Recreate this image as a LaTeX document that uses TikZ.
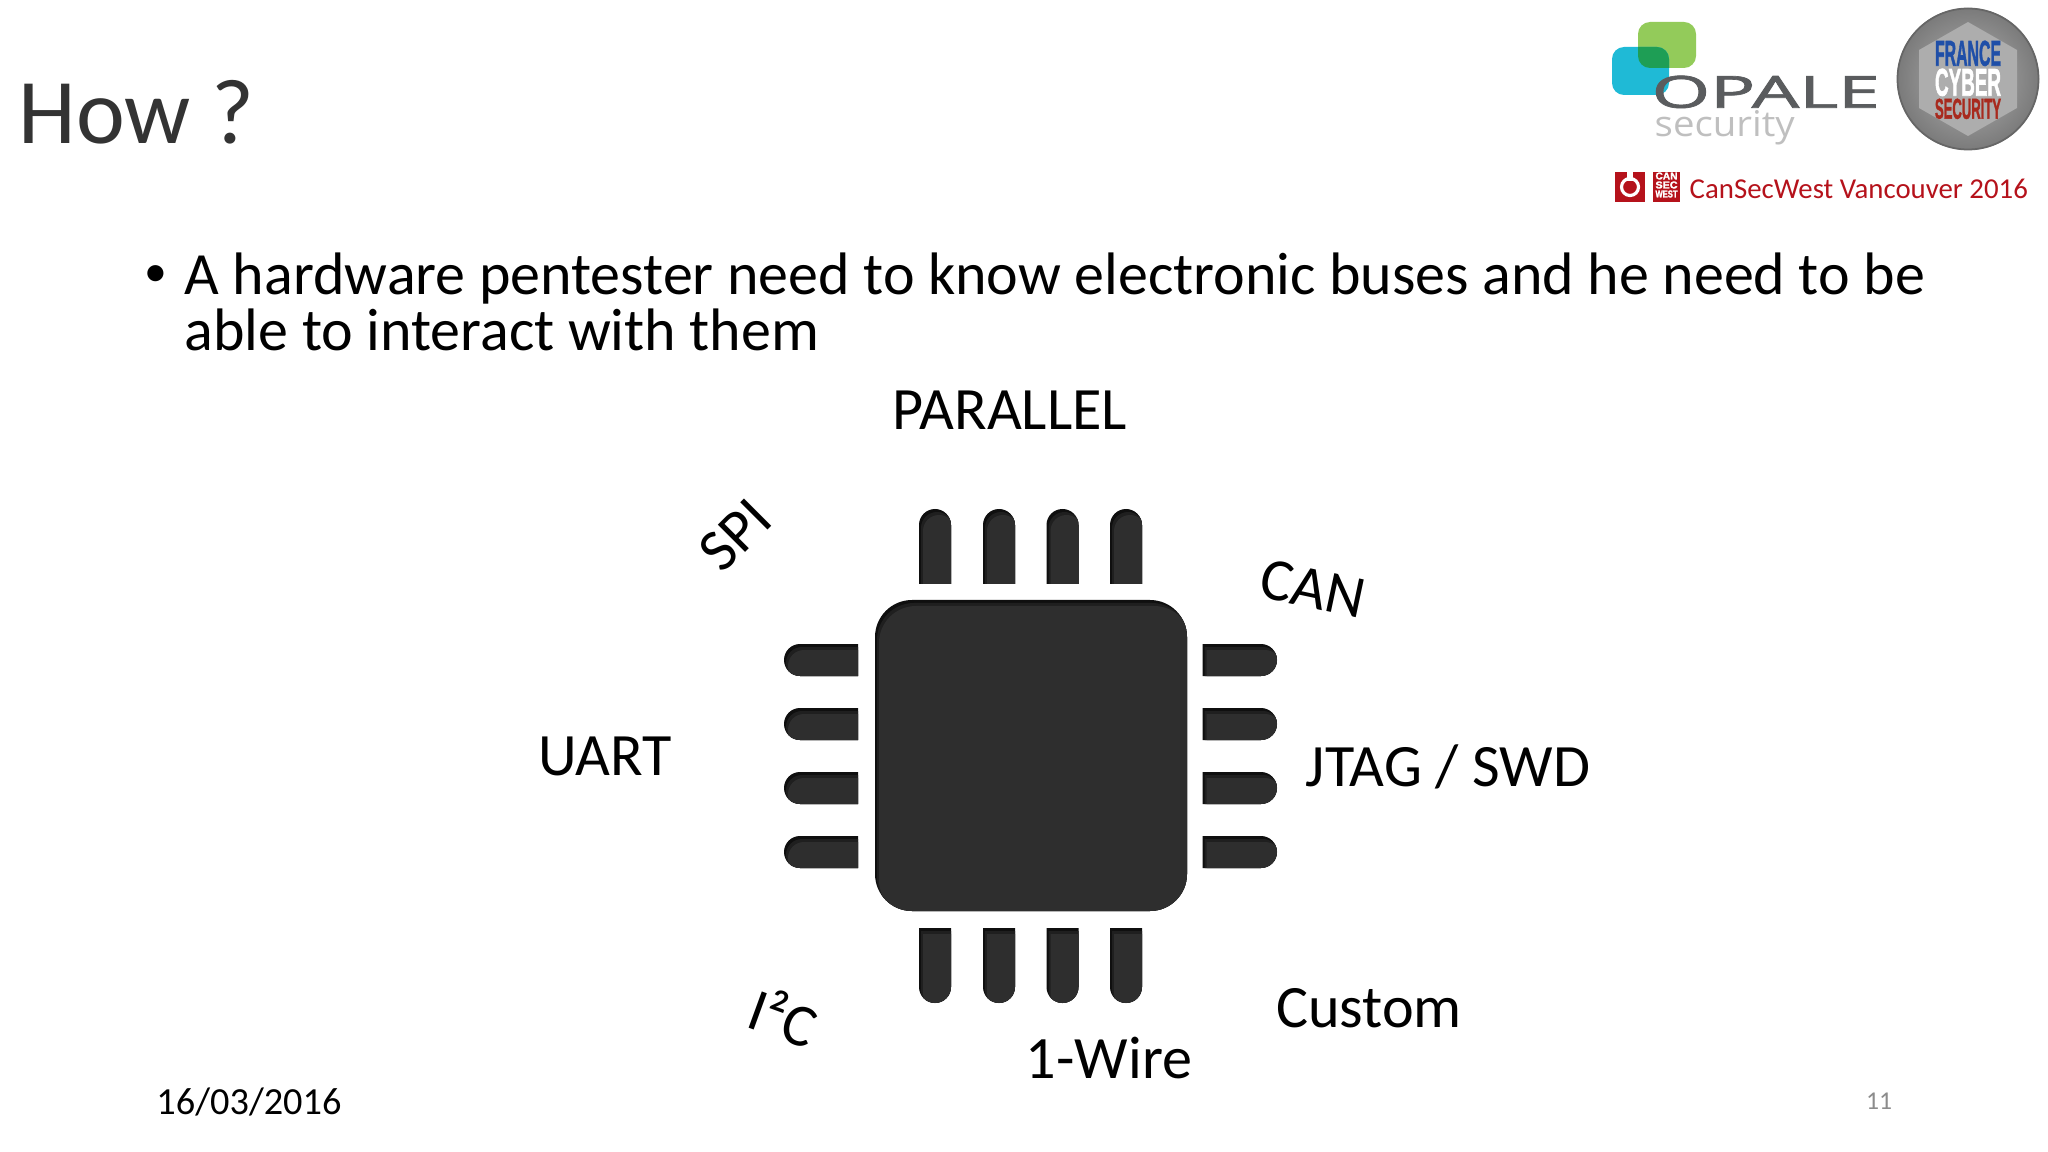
\documentclass[tikz,border=0pt]{standalone}
\usepackage{fontspec}
\setmainfont{Carlito}
\newfontfamily\logofont[FakeBold=1.5]{Open Sans}
\newfontfamily\thinfont{Open Sans}
\newfontfamily\badgefont[BoldFeatures={FakeBold=2}]{Liberation Sans}
\definecolor{chipbody}{HTML}{2E2E2E}
\definecolor{chipmid}{HTML}{1F1F1F}
\definecolor{chipdark}{HTML}{0F0F0F}
\definecolor{opalegreen}{HTML}{93CB5A}
\definecolor{opaleblue}{HTML}{1FBAD6}
\definecolor{opalemix}{HTML}{1E9E55}
\definecolor{opalegrey}{HTML}{5A5C5E}
\definecolor{canred}{HTML}{B5121B}
\definecolor{badgeblue}{HTML}{1F4FA8}
\definecolor{badgered}{HTML}{A82A1E}
\tikzset{
    bodytext/.style={anchor=base west, inner sep=0pt, font=\fontsize{17.05}{20}\selectfont},
    buslabel/.style={inner sep=0pt, font=\fontsize{17.1}{20}\selectfont},
}
% shape with a dark edge on its upper left
\newcommand{\shadowfill}[1]{
    \begin{scope}
        \fill[chipdark] #1;
        \clip #1;
        \begin{scope}[shift={(2,3)}]
            \fill[chipmid] #1;
        \end{scope}
        \begin{scope}[shift={(4,6)}]
            \fill[chipbody] #1;
        \end{scope}
    \end{scope}
}
\begin{document}
\begin{tikzpicture}[x=0.01cm, y=-0.01cm]
    \useasboundingbox (0,0) rectangle (2048,1152);

    \node[anchor=base west, inner sep=0pt, font=\fontsize{26.3}{30}\selectfont, text=black!80] (title) at (18,144) {How ?};

    \node[inner sep=0pt, font=\fontsize{13}{15}\selectfont] (bullet) at (156,276) {•};
    \node[bodytext] (line1) at (184,295) {A hardware pentester need to know electronic buses and he need to be};
    \node[bodytext] (line2) at (184,351) {able to interact with them};

    % chip
    \shadowfill{(912,600) -- (1150,600) arc (90:0:37 and -37) -- (1187,874) arc (0:-90:37 and -37) -- (912,911) arc (-90:-180:37 and -37) -- (875,637) arc (180:90:37 and -37) -- cycle}
    \foreach \x in {919, 983, 1046.5, 1110} {
        \shadowfill{(\x,584) -- (\x,525) arc (180:0:16 and -16) -- (\x+32,584) -- cycle}
        \shadowfill{(\x,928) -- (\x,987) arc (180:360:16 and -16) -- (\x+32,928) -- cycle}
    }
    \foreach \y in {644, 708, 772, 836} {
        \shadowfill{(858,\y) -- (800,\y) arc (90:270:16 and -16) -- (858,\y+32) -- cycle}
        \shadowfill{(1202.5,\y) -- (1261,\y) arc (90:-90:16 and -16) -- (1202.5,\y+32) -- cycle}
    }

    \node[buslabel] (parallel) at (1010,410) {PARALLEL};
    \node[buslabel] (uart) at (605,756) {UART};
    \node[buslabel] (jtag) at (1448,767) {JTAG / SWD};
    \node[buslabel, rotate=-12] (can) at (1313,589) {CAN};
    \node[buslabel, rotate=45] (spi) at (735,535) {SPI};
    \node[buslabel, rotate=-20] (iic) at (784,1016) {I²C};
    \node[buslabel] (custom) at (1369,1008) {Custom};
    \node[buslabel] (wire) at (1109,1058) {1-Wire};

    \node[inner sep=0pt, font=\fontsize{10.9}{13}\selectfont] (date) at (249,1102) {16/03/2016};
    \node[inner sep=0pt, font=\fontsize{7.3}{9}\selectfont, text=black!45] (page) at (1879,1101) {11};

    % logos
    \fill[opalegreen, rounded corners=0.12cm] (1638,22) rectangle (1696,68);
    \fill[opaleblue, rounded corners=0.12cm] (1612,47) rectangle (1669,95);
    \begin{scope}
        \clip[rounded corners=0.12cm] (1638,22) rectangle (1696,68);
        \fill[opalemix, rounded corners=0.12cm] (1612,47) rectangle (1669,95);
    \end{scope}
    \node[anchor=north west, inner sep=0pt, text=opalegrey] (opale) at (1651,75) {\resizebox{2.28cm}{0.32cm}{\logofont OPALE}};
    \node[anchor=north west, inner sep=0pt, text=black!25] (security) at (1654,110) {\resizebox{1.4cm}{0.26cm}{\thinfont security}};

    \shade[inner color=black!30, outer color=black!52] (1968,79) circle (71);
    \draw[black!60, line width=0.5pt] (1968,79) circle (70.5);
    \fill[black!32] (1968,22) -- (2017,50) -- (2017,108) -- (1968,136) -- (1919,108) -- (1919,50) -- cycle;
    \node[anchor=north, inner sep=0pt, text=badgeblue] (france) at (1968,40) {\resizebox{0.66cm}{0.25cm}{\badgefont\bfseries FRANCE}};
    \node[anchor=north, inner sep=0pt, text=white] (cyber) at (1968,68) {\resizebox{0.66cm}{0.27cm}{\badgefont\bfseries CYBER}};
    \node[anchor=north, inner sep=0pt, text=badgered] (secur) at (1968,98) {\resizebox{0.66cm}{0.20cm}{\badgefont\bfseries SECURITY}};

    \fill[canred] (1615,172) rectangle (1645,202);
    \draw[white, line width=0.9pt] (1630,187) circle (8.5);
    \fill[white] (1627,170) rectangle (1633,181);
    \fill[canred] (1630,187) circle (3.5);
    \fill[canred] (1653,172) rectangle (1680,202);
    \foreach \i/\t in {1/CAN, 2/SEC, 3/WEST} {
        \node[inner sep=0pt, text=white] (mark\i) at (1666.5,167+\i*9) {\resizebox{0.22cm}{0.07cm}{\badgefont\bfseries \t}};
    }
    \node[anchor=base west, inner sep=0pt, text=canred] (cansec) at (1689,199) {\resizebox{3.38cm}{!}{CanSecWest Vancouver 2016}};
\end{tikzpicture}
\end{document}
